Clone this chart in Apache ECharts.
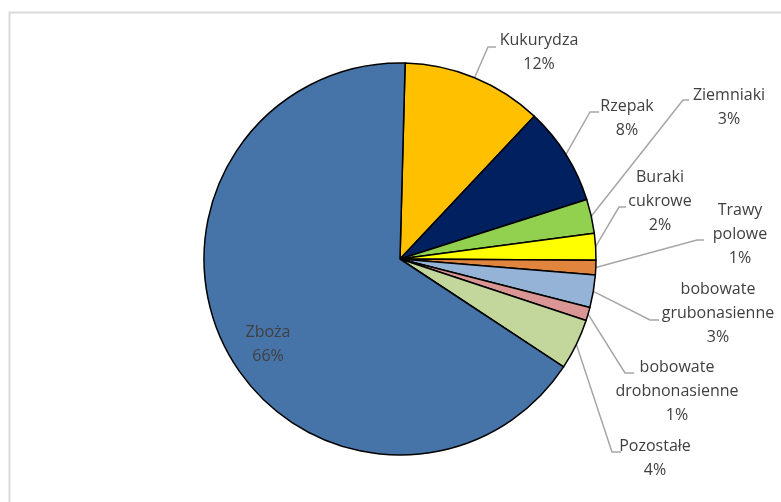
<!DOCTYPE html>
<html>
<head>
<meta charset="utf-8">
<script src="https://cdn.jsdelivr.net/npm/echarts@6/dist/echarts.min.js"></script>
<style>
html,body{margin:0;padding:0;background:#fff;}
#chart{width:781px;height:502px;}
</style>
</head>
<body>
<div id="chart"></div>
<script>
// Data (order clockwise from top)
var categories = ['Kukurydza', 'Rzepak', 'Ziemniaki', 'Buraki\ncukrowe', 'Trawy\npolowe',
  'bobowate\ngrubonasienne', 'bobowate\ndrobnonasienne', 'Pozostałe', 'Zboża'];
var values = [11.6, 8.1, 2.8, 2.2, 1.2, 2.7, 1.1, 4.2, 66.2];
var colors = ['#FFC000', '#002060', '#92D050', '#FFFF00', '#E0843E',
  '#95B3D7', '#D99694', '#C3D69B', '#4674A8'];

// label placement (text block centre) and leader-line elbow per slice
var labelPos = [
  [539, 52], [627, 118], [729, 107], [660, 201], [740, 234],
  [718, 313], [677, 391], [655, 458], [268, 344]
];
var elbows = [
  [[488, 47], [496, 47]],
  [[590, 112], [599, 112]],
  [[683, 100], [689, 100]],
  [[619, 207], [626, 207]],
  [[697, 240], [704, 240]],
  [[650, 320], [659, 320]],
  [[625, 373], [634, 373]],
  [[612, 452], [621, 452]],
  null
];

var CX = 400, CY = 259, R = 196;

var chart = echarts.init(document.getElementById('chart'));
var data = categories.map(function (c, i) {
  var d = { name: c, value: values[i], itemStyle: { color: colors[i] } };
  if (i === categories.length - 1) d.labelLine = { show: false };
  return d;
});

chart.setOption({
  animation: false,
  backgroundColor: '#ffffff',
  graphic: [{
    type: 'rect', left: 7, top: 10,
    shape: { width: 820, height: 600 },
    style: { fill: 'none', stroke: '#D9D9D9', lineWidth: 2 },
    z: -1
  }],
  series: [{
    type: 'pie',
    center: [CX, CY],
    radius: R,
    startAngle: 88.5,
    clockwise: true,
    avoidLabelOverlap: false,
    data: data,
    itemStyle: { borderColor: '#000', borderWidth: 1.5 },
    label: {
      show: true,
      position: 'outside',
      formatter: function (p) { return p.name + '\n' + Math.round(p.value) + '%'; },
      fontFamily: 'Open Sans',
      fontSize: 16,
      lineHeight: 24,
      color: '#404040',
      align: 'center'
    },
    labelLine: {
      show: true,
      length: 10, length2: 10,
      lineStyle: { color: '#A6A6A6', width: 1.5 }
    },
    labelLayout: function (params) {
      var i = params.dataIndex;
      var pos = labelPos[i];
      var out = { x: pos[0], y: pos[1], align: 'center', verticalAlign: 'middle' };
      if (elbows[i]) {
        var start;
        if (params.labelLinePoints && params.labelLinePoints[0]) {
          start = params.labelLinePoints[0];
        } else {
          start = [CX, CY];
        }
        out.labelLinePoints = [start, elbows[i][0], elbows[i][1]];
      }
      return out;
    },
    emphasis: { disabled: true }
  }]
});
</script>
</body>
</html>
